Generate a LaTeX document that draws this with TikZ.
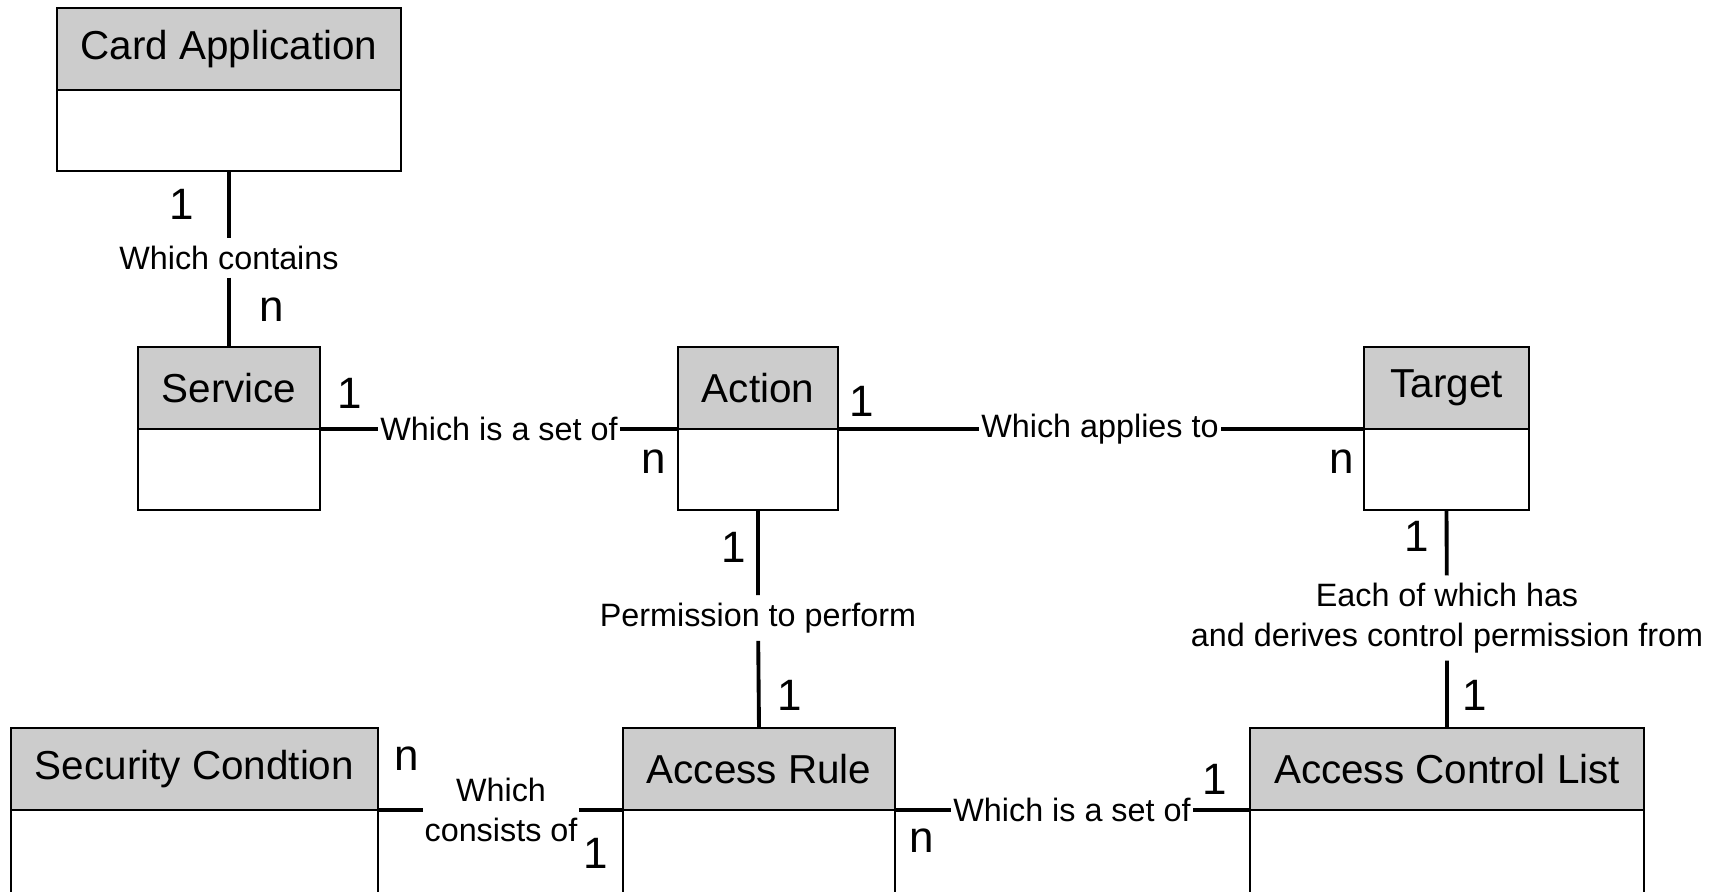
\documentclass[tikz,border=0pt]{standalone}
\usepackage{fontspec}
\setmainfont{Liberation Sans}
\usetikzlibrary{positioning}
\tikzset{
  hdr/.style={rectangle, draw=black, line width=0.7pt, fill=black!20,
              outer sep=0pt, inner sep=0pt, minimum width=#1,
              minimum height=0.82cm, font=\fontsize{11.5}{14}\selectfont},
  hdr/.default=3cm,
  body/.style={rectangle, draw=black, line width=0.7pt, fill=white,
               outer sep=0pt, inner sep=0pt, minimum width=#1,
               minimum height=0.81cm},
  body/.default=3cm,
  conn/.style={line width=1.1pt},
  rel/.style={font=\fontsize{9.2}{11.3}\selectfont, align=center,
              inner xsep=0.5pt, inner ysep=2pt},
  mult/.style={font=\fontsize{12.5}{15}\selectfont, inner sep=0pt},
}
\begin{document}
\begin{tikzpicture}
\useasboundingbox (0,0) rectangle (17.2,-8.92);

% ── Top: Card Application ─────────────────────────────────────────────────────
\node[hdr=3.44cm] (card) at (2.29,-0.49) {Card Application};
\node[body=3.44cm, below=0pt of card] (card-b) {};

% ── Middle row: Service, Action, Target ──────────────────────────────────────
\node[hdr=1.82cm] (svc) at (2.29,-3.88) {Service};
\node[body=1.82cm, below=0pt of svc] (svc-b) {};

\node[hdr=1.60cm] (act) at (7.58,-3.88) {Action};
\node[body=1.60cm, below=0pt of act] (act-b) {};

\node[hdr=1.65cm] (tgt) at (14.465,-3.88) {Target};
\node[body=1.65cm, below=0pt of tgt] (tgt-b) {};

% ── Bottom row: Security Condtion, Access Rule, Access Control List ─────────
\node[hdr=3.67cm] (sec) at (1.945,-7.69) {Security Condtion};
\node[body=3.67cm, minimum height=1.2cm, below=0pt of sec] (sec-b) {};

\node[hdr=2.72cm] (rule) at (7.59,-7.69) {Access Rule};
\node[body=2.72cm, minimum height=1.2cm, below=0pt of rule] (rule-b) {};

\node[hdr=3.94cm] (acl) at (14.47,-7.69) {Access Control List};
\node[body=3.94cm, minimum height=1.2cm, below=0pt of acl] (acl-b) {};

% ── Relation labels ───────────────────────────────────────────────────────────
\node[rel] (contains) at (2.29,-2.58) {Which contains};
\node[rel] (setof) at (4.99,-4.29) {Which is a set of};
\node[rel] (applies) at (11.00,-4.29) {Which applies to};
\node[rel] (perm) at (7.58,-6.18) {Permission to perform};
\node[rel] (derives) at (14.47,-6.18)
  {Each of which has\\and derives control permission from};
\node[rel, inner xsep=0.2pt] (consists) at (5.01,-8.10) {Which\\consists of};
\node[rel] (setof2) at (10.72,-8.10) {Which is a set of};

% ── Connectors ────────────────────────────────────────────────────────────────
\draw[conn] (card-b.south) -- (contains) -- (svc.north);
\draw[conn] (svc.south east) -- (setof) -- (act.south west);
\draw[conn] (act.south east) -- (applies) -- (tgt.south west);
\draw[conn] (act-b.south) -- (perm) -- (rule.north);
\draw[conn] (tgt-b.south) -- (derives) -- (acl.north);
\draw[conn] (sec.south east) -- (consists) -- (rule.south west);
\draw[conn] (rule.south east) -- (setof2) -- (acl.south west);

% ── Multiplicities ────────────────────────────────────────────────────────────
\node[mult] (m-card) at (1.82,-2.04) {1};
\node[mult] (m-svc-t) at (2.72,-3.10) {n};
\node[mult] (m-svc-r) at (3.50,-3.93) {1};
\node[mult] (m-act-l) at (6.54,-4.62) {n};
\node[mult] (m-act-r) at (8.62,-4.01) {1};
\node[mult] (m-tgt-l) at (13.42,-4.62) {n};
\node[mult] (m-act-b) at (7.34,-5.47) {1};
\node[mult] (m-rule-t) at (7.90,-6.95) {1};
\node[mult] (m-tgt-b) at (14.17,-5.36) {1};
\node[mult] (m-acl-t) at (14.75,-6.95) {1};
\node[mult] (m-sec-r) at (4.07,-7.59) {n};
\node[mult] (m-rule-l) at (5.96,-8.53) {1};
\node[mult] (m-rule-r) at (9.22,-8.41) {n};
\node[mult] (m-acl-l) at (12.15,-7.79) {1};

\end{tikzpicture}
\end{document}
